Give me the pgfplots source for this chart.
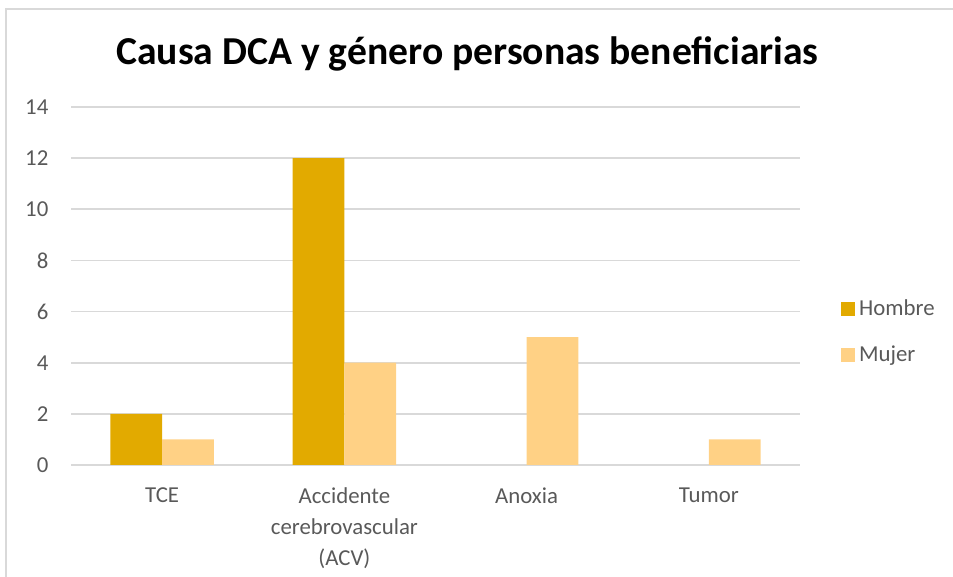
\documentclass[border=0pt]{standalone}
\usepackage{fontspec}
\setmainfont{Carlito}
\usepackage{pgfplots}
\pgfplotsset{compat=1.18}

\definecolor{hombre}{HTML}{E2AA00}
\definecolor{mujer}{HTML}{FFD185}
\definecolor{txt}{HTML}{595959}
\definecolor{gridc}{HTML}{D9D9D9}

\begin{document}
\begin{tikzpicture}
% canvas: 1 px of the reference = 0.5pt
\useasboundingbox (0,0) rectangle (476.5pt,288.5pt);
\draw[gridc, line width=1pt] (3pt,0) -- (3pt,284pt) -- (476.5pt,284pt);

\node[font=\fontsize{19.8}{24}\selectfont\bfseries, anchor=base] at (233.75pt,256pt)
  {Causa DCA y género personas beneficiarias};

\begin{axis}[
    at={(35.5pt,56pt)}, anchor=south west,
    scale only axis,
    width=364.5pt, height=179pt,
    xmin=-0.5, xmax=3.5,
    ymin=0, ymax=14,
    ytick={0,2,...,14},
    xtick={0,1,2,3},
    xticklabels={TCE, Accidente\\cerebrovascular\\(ACV), Anoxia, Tumor},
    axis line style={draw=none},
    axis x line*=bottom,
    axis y line*=left,
    ymajorgrids,
    grid style={gridc, line width=0.9pt},
    major tick length=0pt,
    tick label style={font=\fontsize{11.4}{15.3}\selectfont, text=txt},
    xticklabel style={align=center, anchor=north, yshift=-8pt},
    yticklabel style={anchor=east, xshift=-7.8pt},
    /pgf/number format/assume math mode=true,
    clip=false,
    legend style={at={(1.056,0.372)}, anchor=west, draw=none, fill=none,
        inner sep=0pt, row sep=9.5pt, font=\fontsize{11.4}{15}\selectfont,
        text=txt},
    legend cell align=left,
    legend image code/.code={\fill[#1] (0pt,-3.5pt) rectangle (7pt,3.5pt);},
]
\draw[gridc, line width=1pt] (axis cs:-0.5,0) -- (axis cs:3.5,0);

% Hombre: Anoxia 0, Tumor 0 (not drawn)
\addplot[ybar, bar width=0.284, bar shift=-0.142, fill=hombre, draw=none]
  coordinates {(0,2) (1,12)};
\addlegendentry{Hombre}
\addplot[ybar, bar width=0.284, bar shift=0.142, fill=mujer, draw=none]
  coordinates {(0,1) (1,4) (2,5) (3,1)};
\addlegendentry{Mujer}
\end{axis}
\end{tikzpicture}
\end{document}
